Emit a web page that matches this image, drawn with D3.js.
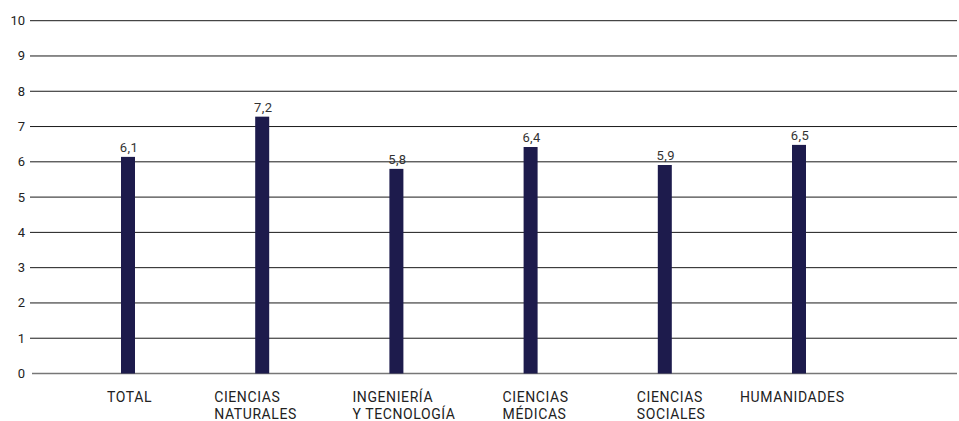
<!DOCTYPE html>
<html><head><meta charset="utf-8">
<script src="https://cdn.jsdelivr.net/npm/d3@7"></script>
<style>body{margin:0;background:#fff}svg{display:block}</style>
</head><body>
<script>
const categories = [["TOTAL"],["CIENCIAS","NATURALES"],["INGENIERÍA","Y TECNOLOGÍA"],["CIENCIAS","MÉDICAS"],["CIENCIAS","SOCIALES"],["HUMANIDADES"]];
const values = [6.14, 7.28, 5.80, 6.42, 5.91, 6.48];
const valueLabels = ["6,1", "7,2", "5,8", "6,4", "5,9", "6,5"];
const yTicks = [0,1,2,3,4,5,6,7,8,9,10];
const labelLeftDx = [-21, -48, -44, -28, -28, -59];

const W = 959, H = 421;
const svg = d3.select("body").append("svg").attr("width", W).attr("height", H);
const font = "Roboto, 'DejaVu Sans', sans-serif";

const y = d3.scaleLinear().domain([0, 10]).range([373.5, 20.7]);
const x = d3.scalePoint().domain(d3.range(categories.length)).range([128, 799]);
const gridX0 = 30, gridX1 = 957, barW = 14;

svg.append("g").selectAll("line").data(yTicks).join("line")
  .attr("x1", d => d === 0 ? 32 : gridX0).attr("x2", gridX1)
  .attr("y1", d => y(d)).attr("y2", d => y(d))
  .attr("stroke", d => d === 0 ? "#777" : "#1a1a1a").attr("stroke-width", d => d === 0 ? 1.6 : 1);

svg.append("g").selectAll("text").data(yTicks).join("text")
  .attr("x", 25).attr("y", d => y(d) + 4.5)
  .attr("text-anchor", "end").attr("font-family", font).attr("font-size", 13)
  .attr("fill", "#222").text(d => d);

svg.append("g").selectAll("rect").data(values).join("rect")
  .attr("x", (d, i) => x(i) - barW / 2).attr("width", barW)
  .attr("y", d => y(d)).attr("height", d => y(0) - y(d))
  .attr("fill", "#1d1b4c");

svg.append("g").selectAll("text").data(values).join("text")
  .attr("x", (d, i) => x(i) + 1).attr("y", d => y(d) - 5)
  .attr("text-anchor", "middle").attr("font-family", font).attr("font-size", 13)
  .attr("letter-spacing", 0.4)
  .attr("fill", "#333").text((d, i) => valueLabels[i]);

const lab = svg.append("g");
categories.forEach((lines, i) => {
  const t = lab.append("text").attr("font-family", font).attr("font-size", 14)
    .attr("letter-spacing", 0.6).attr("fill", "#222");
  lines.forEach((s, k) => t.append("tspan").attr("x", x(i) + labelLeftDx[i]).attr("y", 401.8 + k * 17.5).text(s));
});
</script>
</body></html>
